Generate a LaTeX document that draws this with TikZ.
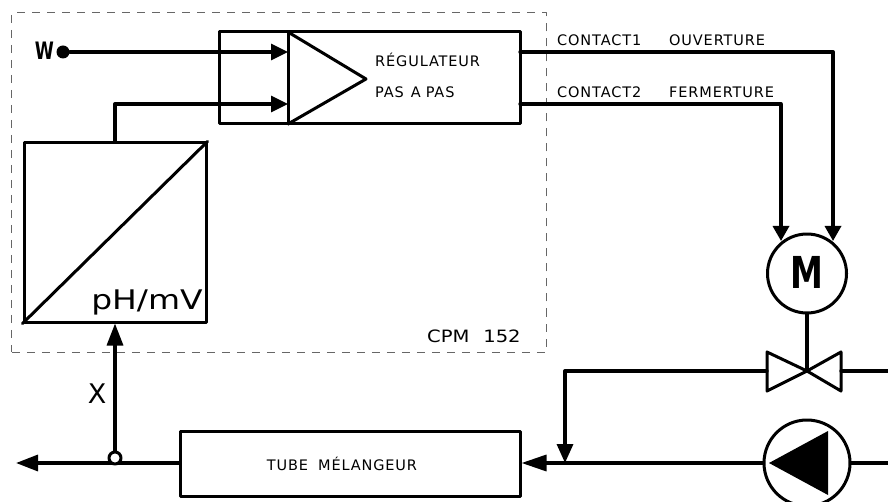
\documentclass[tikz,border=0pt]{standalone}
\usepackage{fontspec}
\setmainfont{DejaVu Sans}
\newfontfamily\cadfont[LetterSpace=6]{DejaVu Sans}
\usetikzlibrary{arrows.meta,calc,positioning}
\tikzset{
  blk/.style={rectangle, draw, line width=3pt, inner sep=0pt},
  lbl/.style={inner sep=0pt, font=\cadfont\fontsize{14.5}{14.5}\selectfont},
  big/.style={inner sep=0pt, font=\fontsize{27}{27}\selectfont},
  pipe/.style={line width=3.3pt},
  arr/.style={pipe, -{Triangle[length=#1,width=16pt]}},
  arr/.default=17pt,
  every picture/.style={line cap=round, line join=round}
}

\begin{document}
\begin{tikzpicture}[x=1pt,y=-1pt]
  \useasboundingbox (0,0) rectangle (888,502);

  % Controller frame
  \node[rectangle, draw=black!60, line width=1pt, dash pattern=on 8pt off 7pt, line cap=butt,
        minimum width=534.5pt, minimum height=339pt] (frame) at (279,182.5) {};
  \node[lbl, anchor=west, xscale=1.15, font=\fontsize{17}{17}\selectfont] (cpm) at (427,336) {CPM\hspace{12pt}152};

  % Regulator
  \node[blk, minimum width=301pt, minimum height=92pt] (reg) at (369.5,78) {};
  \coordinate (regtop) at (288,32);
  \coordinate (regbot) at (288,124);
  \coordinate (regtip) at (366,79);
  \draw[line width=3pt] (regtop)--(regbot);
  \draw[line width=3pt] (regtop)--(regtip)--(regbot);
  \node[lbl, anchor=west] (reg1) at (375,60) {RÉGULATEUR};
  \node[lbl, anchor=west] (reg2) at (375,92) {PAS\hspace{7pt}A\hspace{5pt}PAS};

  % Transducer
  \node[blk, minimum width=182pt, minimum height=179pt] (conv) at (115,232.5) {};
  \draw[line width=3pt] (conv.south west)--(conv.north east);
  \node[big, anchor=base, xscale=1.22] (unit) at (147,309) {pH/mV};

  % Inputs
  \node[circle, fill, inner sep=0pt, minimum size=13pt] (wdot) at (63,52) {};
  \node[big, anchor=east, xscale=0.72, font=\fontsize{24}{24}\selectfont\bfseries] (w) at (54,51) {W};
  \coordinate (in1) at (288,52);
  \coordinate (in2) at (288,104);
  \draw[arr] (wdot)--(in1);
  \draw[arr] (conv.north)--(115,104)--(in2);

  % Contact lines
  \coordinate (out1) at (520,52);
  \coordinate (out2) at (520,104);
  \node[lbl, anchor=west] (con1) at (557,40) {\makebox[112pt][l]{CONTACT1}OUVERTURE};
  \node[lbl, anchor=west] (con2) at (557,92) {\makebox[112pt][l]{CONTACT2}FERMERTURE};

  % Motor and valve
  \node[circle, draw, line width=3pt, minimum size=79pt, inner sep=0pt] (mot) at (807,273.5) {};
  \node[inner sep=0pt, xscale=0.75, font=\fontsize{44}{44}\selectfont\bfseries] (motlbl) at (807,272.5) {M};
  \coordinate (mot1) at (781,241);
  \coordinate (mot2) at (833,241);
  \draw[arr=15pt] (out1)--(833,52)--(mot2);
  \draw[arr=15pt] (out2)--(781,104)--(mot1);
  \coordinate (val) at (807,371);
  \coordinate (valL) at (767,371);
  \coordinate (valR) at (841,371);
  \draw[line width=3pt] (val)--(767,352)--(767,391)--cycle;
  \draw[line width=3pt] (val)--(841,352)--(841,391)--cycle;
  \draw[pipe] (mot)--(val);

  % Pump
  \node[circle, draw, line width=3pt, minimum size=86pt, inner sep=0pt] (pump) at (807,463) {};
  \fill (769,463)--(828,431)--(828,495)--cycle;

  % Mixer tube
  \node[blk, minimum width=340pt, minimum height=65pt] (tube) at (350,463.5) {};
  \node[lbl, anchor=center] (tubelbl) at (342,464) {TUBE\hspace{10pt}MÉLANGEUR};

  % Main line
  \coordinate (end1) at (888,371);
  \coordinate (end2) at (888,463);
  \coordinate (junc) at (565,463);
  \coordinate (outl) at (16,463);
  \draw[pipe] (valR)--(end1);
  \draw[pipe] (pump)--(end2);
  \draw[arr=25pt] (pump)--(tube.east |- pump);
  \draw[arr=19pt] (valL)--(565,371)--(junc);
  \draw[arr=22pt] (tube.west |- outl)--(outl);

  % Measurement
  \node[circle, draw, fill=white, line width=3pt, minimum size=12pt, inner sep=0pt] (tap) at (115,458) {};
  \draw[arr=22pt] (tap)--(conv.south);
  \node[big, anchor=center] (x) at (97,394) {X};
\end{tikzpicture}
\end{document}
